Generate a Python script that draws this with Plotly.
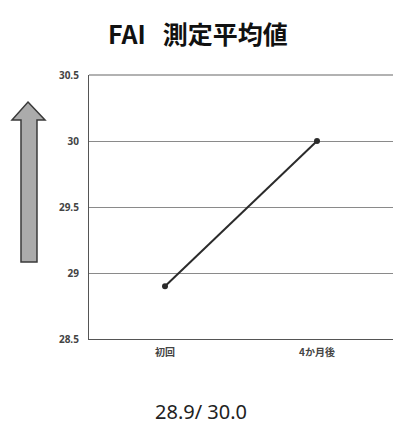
import plotly.graph_objects as go

# FAI mean values at the two measurement points
categories = ["初回", "4か月後"]
fai_mean = [28.9, 30.0]

y_ticks = [28.5, 29, 29.5, 30, 30.5]
y_tick_text = ["28.5", "29", "29.5", "30", "30.5"]

W, H = 394, 427
ML, MR, MT, MB = 89, 1, 75, 88
PW, PH = W - ML - MR, H - MT - MB


def px(x):
    return (x - ML) / PW


def py(y):
    return (H - MB - y) / PH


fig = go.Figure()
fig.add_trace(go.Scatter(
    x=categories, y=fai_mean, mode="lines+markers",
    line=dict(color="#2b2b2b", width=2),
    marker=dict(color="#2b2b2b", size=6),
    showlegend=False, hoverinfo="skip",
))

# upward arrow to the left of the axis
pts = [(28, 102), (45, 120), (37, 120), (37, 262), (21, 262), (21, 120), (12, 120)]
path = "M " + " L ".join(f"{px(x):.4f},{py(y):.4f}" for x, y in pts) + " Z"

fig.update_layout(
    width=W, height=H,
    margin=dict(l=ML, r=MR, t=MT, b=MB),
    paper_bgcolor="white", plot_bgcolor="white",
    font=dict(family="Noto Sans CJK JP", color="#333"),
    xaxis=dict(
        type="category", range=[-0.5, 1.5],
        showgrid=False, showline=True, linecolor="#555", linewidth=1.2,
        mirror=False, ticks="", ticklabelstandoff=4,
        tickfont=dict(size=10, color="#444", family="Noto Sans CJK JP", weight="bold"),
        fixedrange=True,
    ),
    yaxis=dict(
        range=[28.5, 30.5], tickvals=y_ticks, ticktext=y_tick_text,
        showgrid=True, gridcolor="#8a8a8a", gridwidth=1,
        showline=True, linecolor="#555", linewidth=1.2, zeroline=False,
        ticks="", ticklabelstandoff=7,
        tickfont=dict(size=10, color="#444", family="Noto Sans", weight="bold"),
        fixedrange=True,
    ),
    shapes=[
        dict(type="line", xref="paper", yref="paper", x0=0, x1=1, y0=1, y1=1,
             line=dict(color="#666", width=1.2)),
        dict(type="path", xref="paper", yref="paper", path=path,
             fillcolor="#ababab", line=dict(color="#3a3a3a", width=1.5)),
    ],
    annotations=[
        dict(text="<b>FAI&nbsp;&nbsp;&nbsp;測定平均値</b>", xref="paper", yref="paper",
             x=px(198), y=py(33), xanchor="center", yanchor="middle",
             showarrow=False, font=dict(size=25, color="#111",
                                        family="Noto Sans CJK JP")),
        dict(text="28.9/ 30.0", xref="paper", yref="paper",
             x=px(201), y=py(411), xanchor="center", yanchor="middle",
             showarrow=False, font=dict(size=20, color="#222",
                                        family="Noto Sans")),
    ],
)

fig.write_html("out.html")
